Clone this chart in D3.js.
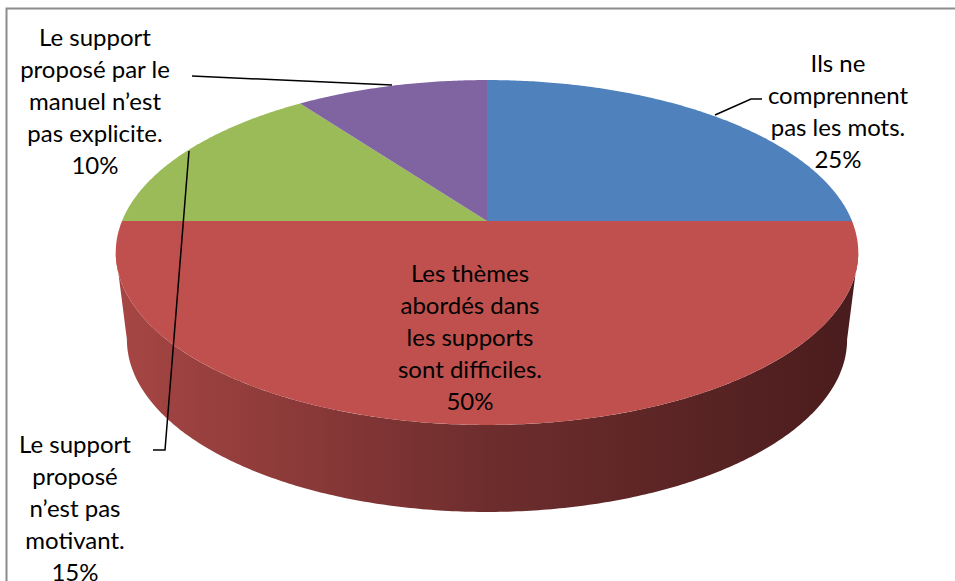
<!DOCTYPE html>
<html>
<head>
<meta charset="utf-8">
<script src="https://cdn.jsdelivr.net/npm/d3@7"></script>
<style>
  body { margin: 0; background: #fff; }
  svg { display: block; }
</style>
</head>
<body>
<div id="chart"></div>
<script>
const width = 955;
const height = 581;

// data
const categories = [
  "Ils ne comprennent pas les mots.",
  "Les thèmes abordés dans les supports sont difficiles.",
  "Le support proposé n’est pas motivant.",
  "Le support proposé par le manuel n’est pas explicite."
];
const values = [25, 50, 15, 10];
const colors = ["#4F81BD", "#C0504D", "#9BBB59", "#8064A2"];

// label lines as wrapped in the original
const labelLines = [
  ["Ils ne", "comprennent", "pas les mots.", "25%"],
  ["Les thèmes", "abordés dans", "les supports", "sont difficiles.", "50%"],
  ["Le support", "proposé", "n’est pas", "motivant.", "15%"],
  ["Le support", "proposé par le", "manuel n’est", "pas explicite.", "10%"]
];
const labelPos = [[838, 62], [470, 272], [75, 443], [95, 36]];
const leaders = [
  [[715, 115], [751, 99], [762, 99]],
  null,
  [[189, 151], [165, 450], [153, 450]],
  [[392, 85], [192, 76]]
];

const svg = d3.select("#chart")
  .append("svg")
  .attr("width", width)
  .attr("height", height);

// chart area border
svg.append("rect")
  .attr("x", 6.5).attr("y", 8.5)
  .attr("width", 960).attr("height", 600)
  .attr("fill", "none")
  .attr("stroke", "#8c8c8c")
  .attr("stroke-width", 2);

// perspective projection of the pie disk
const cx = 487, cy = 221;
const a = 365, b = 166.7, k = -0.1826;
const depth = 87, shrink = 0.97;

function proj(phi, bottom) {
  const u = Math.sin(phi), v = -Math.cos(phi);
  const den = 1 + k * v;
  let x = cx + a * u / den;
  let y = cy + b * v / den;
  if (bottom) {
    x = cx + (x - cx) * shrink;
    y += depth;
  }
  return [x, y];
}

function arcPoints(a0, a1, bottom) {
  const n = Math.max(2, Math.ceil(Math.abs(a1 - a0) / 0.01));
  return d3.range(n + 1).map(i => proj(a0 + (a1 - a0) * i / n, bottom));
}

const pie = d3.pie().sort(null).value(d => d);
const arcs = pie(values);

const defs = svg.append("defs");
const grad = defs.append("linearGradient")
  .attr("id", "side-red")
  .attr("gradientUnits", "userSpaceOnUse")
  .attr("x1", 117).attr("x2", 857).attr("y1", 0).attr("y2", 0);
grad.append("stop").attr("offset", 0).attr("stop-color", "#A64644");
grad.append("stop").attr("offset", 0.5).attr("stop-color", "#6E2D2D");
grad.append("stop").attr("offset", 1).attr("stop-color", "#4A1C1D");

// visible part of the outer wall lies between the two silhouette angles
const sil = Math.asin(-k);
const visStart = Math.PI / 2 + sil;
const visEnd = 3 * Math.PI / 2 - sil;

const line = d3.line();

const sides = svg.append("g");
arcs.forEach((d, i) => {
  const s = Math.max(d.startAngle, visStart);
  const e = Math.min(d.endAngle, visEnd);
  if (s >= e) return;
  const pts = arcPoints(s, e, false).concat(arcPoints(e, s, true));
  sides.append("path")
    .attr("d", line(pts) + "Z")
    .attr("fill", i === 1 ? "url(#side-red)" : d3.color(colors[i]).darker(1.2));
});

const tops = svg.append("g");
arcs.forEach((d, i) => {
  const pts = [[cx, cy]].concat(arcPoints(d.startAngle, d.endAngle, false));
  tops.append("path")
    .attr("d", line(pts) + "Z")
    .attr("fill", colors[i]);
});

// leader lines
svg.append("g")
  .selectAll("path")
  .data(leaders.filter(l => l))
  .join("path")
  .attr("d", d => line(d))
  .attr("fill", "none")
  .attr("stroke", "#000")
  .attr("stroke-width", 1.5);

// data labels
const lh = 32;
const labelG = svg.append("g")
  .attr("font-family", "Lato, 'Open Sans', sans-serif")
  .attr("font-size", 24)
  .attr("fill", "#000")
  .attr("text-anchor", "middle");

labelLines.forEach((lines, i) => {
  const t = labelG.append("text")
    .attr("x", labelPos[i][0])
    .attr("y", labelPos[i][1])
    .attr("dominant-baseline", "central");
  lines.forEach((s, j) => {
    t.append("tspan")
      .attr("x", labelPos[i][0])
      .attr("y", labelPos[i][1] + j * lh)
      .text(s);
  });
});
</script>
</body>
</html>
